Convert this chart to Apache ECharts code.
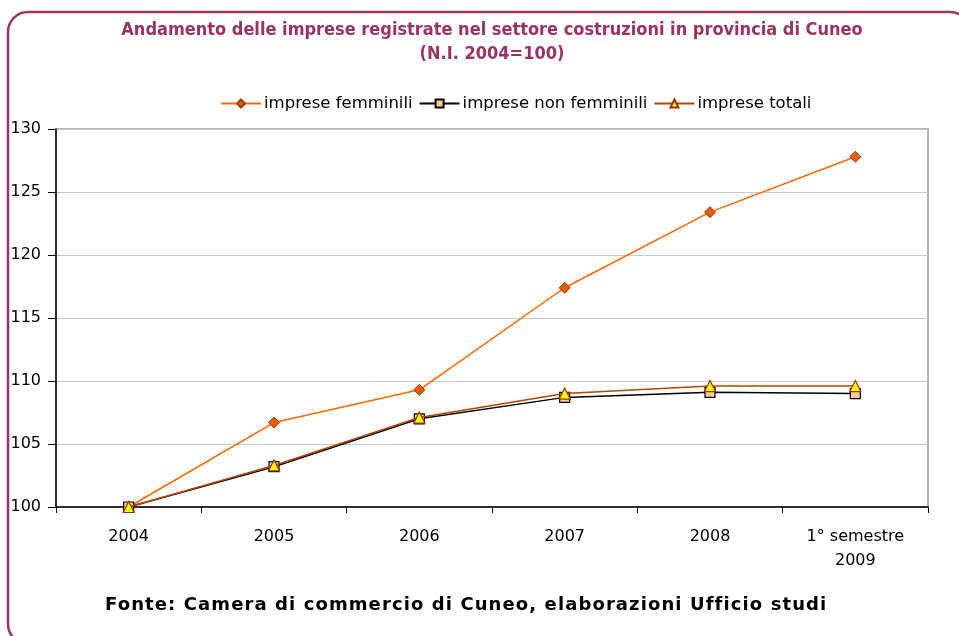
<!DOCTYPE html>
<html>
<head>
<meta charset="utf-8">
<script src="https://cdn.jsdelivr.net/npm/echarts@6/dist/echarts.min.js"></script>
<style>
  html, body { margin: 0; padding: 0; background: #ffffff; }
  #wrap { position: relative; width: 959px; height: 636px; overflow: hidden; }
  #main { width: 959px; height: 636px; }
  #fonte {
    position: absolute; left: 105px; top: 593px;
    font-family: 'DejaVu Sans', sans-serif; font-size: 18px; font-weight: bold;
    letter-spacing: 1.1px; color: #000; white-space: nowrap;
  }
</style>
</head>
<body>
<div id="wrap">
  <div id="main"></div>
  <div id="fonte">Fonte: Camera di commercio di Cuneo, elaborazioni Ufficio studi</div>
</div>
<script>
// dati (N.I. 2004=100)
var categories = ['2004', '2005', '2006', '2007', '2008', '1° semestre\n2009'];
var femminili = [100, 106.7, 109.3, 117.4, 123.4, 127.8];
var nonFemminili = [100, 103.2, 107.0, 108.7, 109.1, 109.0];
var totali = [100, 103.3, 107.1, 109.0, 109.6, 109.6];
var yTicks = { min: 100, max: 130, interval: 5 };

var font = 'DejaVu Sans';
var chart = echarts.init(document.getElementById('main'));

var option = {
  backgroundColor: '#ffffff',
  animation: false,
  title: {
    text: 'Andamento delle imprese registrate nel settore costruzioni in provincia di Cuneo\n(N.I. 2004=100)',
    left: 487,
    textAlign: 'center',
    top: 13,
    textStyle: {
      fontFamily: 'DejaVu Sans Condensed',
      fontSize: 18,
      fontWeight: 'bold',
      color: '#993366',
      lineHeight: 24
    }
  },
  legend: {
    top: 90,
    left: 215,
    itemWidth: 40,
    itemHeight: 10,
    itemGap: 6,
    textStyle: { fontFamily: font, fontSize: 16.5, color: '#000', padding: [0, 0, 0, -2] },
    data: ['imprese femminili', 'imprese non femminili', 'imprese totali']
  },
  grid: {
    left: 56,
    right: 31,
    top: 129,
    bottom: 129,
    show: true,
    borderColor: '#999999',
    borderWidth: 1.5
  },
  xAxis: {
    type: 'category',
    data: categories,
    boundaryGap: true,
    axisLine: { lineStyle: { color: '#000', width: 1.5 } },
    axisTick: { show: true, length: 6, alignWithLabel: false, interval: 0, lineStyle: { color: '#000' } },
    axisLabel: { fontFamily: font, fontSize: 16, color: '#000', margin: 18, lineHeight: 24, interval: 0 }
  },
  yAxis: {
    type: 'value',
    min: yTicks.min,
    max: yTicks.max,
    interval: yTicks.interval,
    axisLine: { show: true, lineStyle: { color: '#000', width: 1.5 } },
    axisTick: { show: true, length: 8, lineStyle: { color: '#000' } },
    axisLabel: { fontFamily: font, fontSize: 16, color: '#000', margin: 15 },
    splitLine: { lineStyle: { color: '#c8c8c8', width: 1 } }
  },
  series: [
    {
      name: 'imprese femminili',
      type: 'line',
      data: femminili,
      symbol: 'diamond',
      symbolSize: 11,
      lineStyle: { color: '#ff6600', width: 1.5 },
      itemStyle: { color: '#e65c00', borderColor: '#a33a00', borderWidth: 1 },
      z: 2
    },
    {
      name: 'imprese non femminili',
      type: 'line',
      data: nonFemminili,
      symbol: 'rect',
      symbolSize: 10,
      lineStyle: { color: '#000000', width: 1.5 },
      itemStyle: { color: '#ffcc99', borderColor: '#000000', borderWidth: 1.2 },
      z: 3
    },
    {
      name: 'imprese totali',
      type: 'line',
      data: totali,
      symbol: 'triangle',
      symbolSize: 11,
      lineStyle: { color: '#b34700', width: 1.5 },
      itemStyle: { color: '#ffff00', borderColor: '#993300', borderWidth: 1.2 },
      z: 4
    }
  ],
  graphic: [
    {
      type: 'rect',
      shape: { x: 8, y: 12, width: 962, height: 632, r: 20 },
      style: { fill: 'none', stroke: '#993366', lineWidth: 2.5 },
      silent: true
    }
  ]
};

chart.setOption(option);
</script>
</body>
</html>
